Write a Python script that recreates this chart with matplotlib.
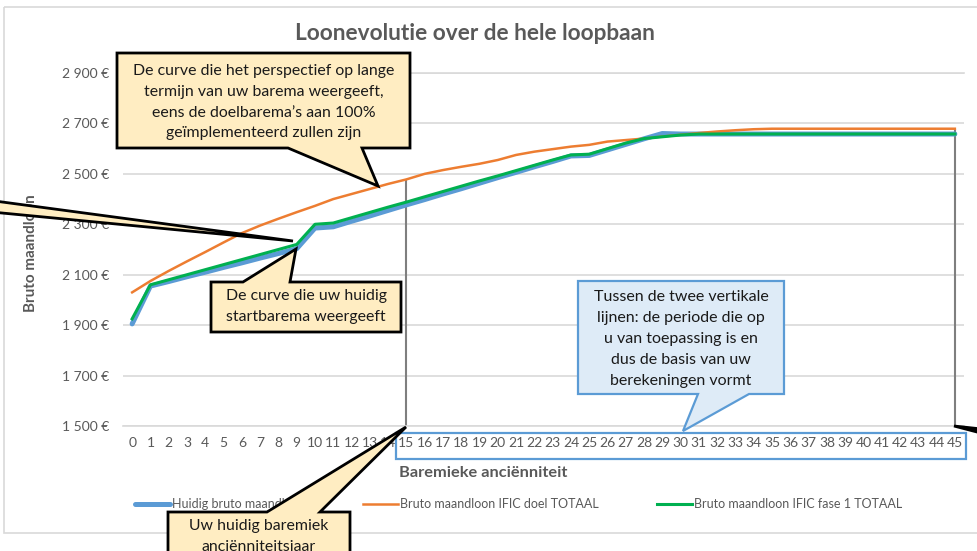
"""
Loonevolutie over de hele loopbaan: huidig barema vs IFIC doel / fase 1,
with the explanatory callouts drawn on top.
"""
import matplotlib
matplotlib.use("Agg")
import matplotlib.pyplot as plt
from matplotlib.patches import Polygon, Rectangle

# --- data ---
years = list(range(46))
huidig = [1905, 2055, 2073, 2092, 2110, 2129, 2147, 2166, 2184, 2203,
          2285, 2290, 2312, 2333, 2355, 2377, 2398, 2420, 2441, 2463,
          2485, 2506, 2528, 2549, 2571, 2573, 2595, 2617, 2639, 2660] + [2658] * 16
ific_doel = [2030, 2075, 2115, 2153, 2190, 2228, 2265, 2295, 2322, 2348,
             2373, 2400, 2420, 2440, 2460, 2478, 2500, 2515, 2528, 2540,
             2555, 2575, 2588, 2598, 2608, 2615, 2628, 2634, 2640, 2648,
             2655, 2662, 2668, 2673, 2677] + [2679] * 11
ific_fase1 = [1925, 2060, 2080, 2100, 2120, 2140, 2160, 2180, 2200, 2220,
              2300, 2305, 2326, 2347, 2368, 2388, 2409, 2430, 2451, 2472,
              2492, 2513, 2534, 2555, 2575, 2578, 2600, 2622, 2640, 2647,
              2654, 2658] + [2658] * 14
y_ticks = list(range(1500, 2901, 200))
period = (15, 45)

series_labels = ["Huidig bruto maandloon",
                 "Bruto maandloon IFIC doel TOTAAL",
                 "Bruto maandloon IFIC fase 1 TOTAAL"]

TITLE = "Loonevolutie over de hele loopbaan"
GREY = "#595959"
GRID = "#D9D9D9"
BLUE, ORANGE, GREEN = "#5B9BD5", "#ED7D31", "#00B050"
NOTE_FILL = "#FFEDC2"

plt.rcParams["font.family"] = ["Lato", "DejaVu Sans"]

W, H = 977, 551
fig = plt.figure(figsize=(W / 100, H / 100), dpi=100)
ax = fig.add_axes([123 / W, 1 - 426 / H, (964 - 123) / W, (426 - 73) / H])

ax.plot(years, huidig, color=BLUE, lw=3.6, solid_joinstyle="round",
        solid_capstyle="round", label=series_labels[0], zorder=3)
ax.plot(years, ific_doel, color=ORANGE, lw=1.8, solid_joinstyle="round",
        label=series_labels[1], zorder=4)
ax.plot(years, ific_fase1, color=GREEN, lw=2.2, solid_joinstyle="round",
        label=series_labels[2], zorder=5)

# the two vertical lines marking the period
ax.vlines(list(period), y_ticks[0], [ific_doel[p] for p in period],
          color="#7F7F7F", lw=1.5, zorder=2)

ax.set_xlim(-0.5, 45.5)
ax.set_ylim(y_ticks[0], y_ticks[-1])
ax.set_xticks(years)
ax.set_xticklabels([str(y) for y in years])
ax.set_yticks(y_ticks)
ax.set_yticklabels([f"{v:,}".replace(",", " ") + " €" for v in y_ticks])
ax.tick_params(length=0, colors=GREY, labelsize=10)
ax.tick_params(axis="x", pad=8)
ax.tick_params(axis="y", pad=10)
ax.grid(axis="y", color=GRID, lw=1.2)
for side in ["left", "right"]:
    ax.spines[side].set_visible(False)
for side in ["top", "bottom"]:
    ax.spines[side].set_color(GRID)
    ax.spines[side].set_linewidth(1.2)

leg = ax.legend(ncol=3, loc="center left", bbox_to_anchor=(135 / W, 1 - 504 / H),
                bbox_transform=fig.transFigure, frameon=False, fontsize=9,
                handlelength=2.8, handletextpad=0.16, columnspacing=4.6,
                borderpad=0, borderaxespad=0)
for t in leg.get_texts():
    t.set_color(GREY)

fig.text(475 / W, 1 - 34 / H, TITLE, ha="center", va="center",
         fontsize=16.3, fontweight="bold", color=GREY)
fig.text(483 / W, 1 - 473 / H, "Baremieke anciënniteit", ha="center",
         va="center", fontsize=11.8, fontweight="bold", color=GREY)
fig.text(31 / W, 1 - 253 / H, "Bruto maandloon", ha="center", va="center",
         rotation=90, fontsize=11, fontweight="bold", color=GREY)

# overlay in pixel coordinates for the callouts
ov = fig.add_axes([0, 0, 1, 1], zorder=10)
ov.set_xlim(0, W)
ov.set_ylim(H, 0)
ov.axis("off")

# chart border
ov.add_patch(Rectangle((4, 7), 1000, 526, fill=False, ec=GRID, lw=1.2, zorder=0))
# box around the x labels of the period
ov.add_patch(Rectangle((396, 433), 570, 26, fill=False, ec=BLUE, lw=1.6, zorder=1))


def callout(pts, fc=NOTE_FILL, ec="black", lw=2.0):
    ov.add_patch(Polygon(pts, closed=True, fc=fc, ec=ec, lw=lw,
                         joinstyle="miter", zorder=2, clip_on=False))


def lines(x, y0, step, txt, size=11.4):
    for i, s in enumerate(txt):
        ov.text(x, y0 + i * step, s, ha="center", va="center",
                fontsize=size, color="#1a1a1a", zorder=3)


# top callout (orange curve)
callout([(117, 53), (410, 53), (410, 148), (362, 148), (378, 186),
         (288, 148), (117, 148)])
lines(263.5, 71, 20.8, ["De curve die het perspectief op lange",
                        "termijn van uw barema weergeeft,",
                        "eens de doelbarema’s aan 100%",
                        "geïmplementeerd zullen zijn"])

# middle callout (blue curve)
callout([(211, 282), (243, 282), (296, 249), (290, 282), (401, 282),
         (401, 332), (211, 332)])
lines(306, 296, 21, ["De curve die uw huidig", "startbarema weergeeft"])

# wedge coming from a callout left of the picture
callout([(-50, 195), (293, 241), (-50, 208)])

# bottom callout (current year)
callout([(168, 512), (267, 512), (406, 427), (320, 512), (350, 512),
         (350, 590), (168, 590)])
lines(259, 526, 21, ["Uw huidig baremiek", "anciënniteitsjaar"])

# blue callout (period)
callout([(578, 281), (784, 281), (784, 394), (749, 394), (683, 431),
         (698, 394), (578, 394)], fc="#DEEBF7", ec=BLUE, lw=1.6)
lines(681, 297, 20.9, ["Tussen de twee vertikale",
                       "lijnen: de periode die op",
                       "u van toepassing is en",
                       "dus de basis van uw",
                       "berekeningen vormt"], size=11.5)

# wedge leaving at the right edge
callout([(954, 426), (1000, 431), (1000, 438)], fc="black")

fig.savefig("out.png", dpi=100)
